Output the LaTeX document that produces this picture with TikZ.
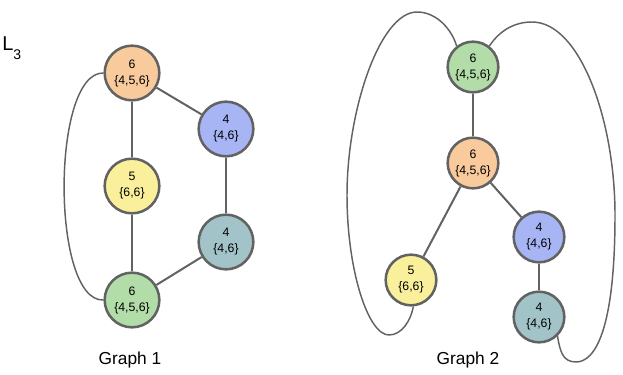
\documentclass[tikz,border=0pt]{standalone}
\usepackage{fontspec}
\setmainfont{Liberation Sans}
\usepackage{tikz}
\usetikzlibrary{positioning}

\definecolor{lorange}{HTML}{F9CB9C}
\definecolor{lblue}{HTML}{A7B5F5}
\definecolor{lyellow}{HTML}{FAEF9B}
\definecolor{lteal}{HTML}{A2C4C9}
\definecolor{lgreen}{HTML}{B2DDA8}
\definecolor{rim}{HTML}{626262}

\begin{document}
\begin{tikzpicture}[x=0.75pt,y=-0.75pt]

\tikzset{vert/.style={
  circle,
  inner sep=0pt,
  align=center,
  draw=rim, line width=1.9pt,
  font=\fontsize{9.2}{12}\selectfont,
  minimum size = 41pt
  },
  vsmall/.style={vert, minimum size=38pt},
  edge/.style={draw=rim, line width=1.5pt},
  loop/.style={draw=rim, line width=1.1pt}}

\useasboundingbox (0,0) rectangle (623,374);

\node[anchor=north west, inner sep=0pt, font=\fontsize{15}{15}\selectfont] (lev) at (2,36) {L\raisebox{-0.45em}{\fontsize{10.5}{10.5}\selectfont 3}};

% Graph 1
\node[vert, fill=lorange] (a6) at (132,73) {6\\\{4,5,6\}};
\node[vert, fill=lblue] (a4) at (226,129) {4\\\{4,6\}};
\node[vert, fill=lyellow] (a5) at (132,186) {5\\\{6,6\}};
\node[vert, fill=lteal] (a4b) at (226,242) {4\\\{4,6\}};
\node[vert, fill=lgreen] (a6b) at (132,300) {6\\\{4,5,6\}};

\path[edge] (a6) -- (a5);
\path[edge] (a5) -- (a6b);
\path[edge] (a6) -- (a4);
\path[edge] (a4) -- (a4b);
\path[edge] (a4b) -- (a6b);
\path[loop] (a6.west) .. controls (51,72) and (51,302) .. (a6b.west);

\node[font=\fontsize{13}{13}\selectfont] (g1) at (130,360) {Graph 1};

% Graph 2
\node[vsmall, fill=lgreen] (b6) at (473,67) {6\\\{4,5,6\}};
\node[vsmall, fill=lorange] (b6b) at (473,163) {6\\\{4,5,6\}};
\node[vsmall, fill=lblue] (b4) at (539,237) {4\\\{4,6\}};
\node[vsmall, fill=lyellow] (b5) at (411,280) {5\\\{6,6\}};
\node[vsmall, fill=lteal] (b4b) at (539,317) {4\\\{4,6\}};

\path[edge] (b6) -- (b6b);
\path[edge] (b6b) -- (b5);
\path[edge] (b6b) -- (b4);
\path[edge] (b4) -- (b4b);
\path[loop] (b6.128) .. controls (452,30) and (437,12) .. (417,12)
  .. controls (380,12) and (347,110) .. (347,195)
  .. controls (347,270) and (368,335) .. (389,335)
  .. controls (402,335) and (411,320) .. (b5.-85);
\path[loop] (b6.52) .. controls (500,30) and (515,22) .. (532,22)
  .. controls (580,22) and (615,120) .. (615,215)
  .. controls (615,330) and (595,362) .. (576,362)
  .. controls (562,362) and (560,350) .. (b4b.-46);

\node[font=\fontsize{13}{13}\selectfont] (g2) at (468,360) {Graph 2};
\end{tikzpicture}
\end{document}
